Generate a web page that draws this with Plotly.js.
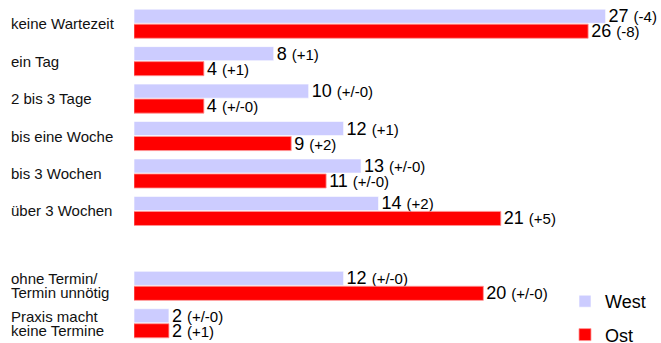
<!DOCTYPE html>
<html>
<head>
<meta charset="utf-8">
<script src="https://cdn.plot.ly/plotly-3.0.1.min.js"></script>
<style>
  html, body { margin: 0; padding: 0; background: #fff; }
  #chart { width: 661px; height: 343px; }
</style>
</head>
<body>
<div id="chart"></div>
<script>
// Wartezeit auf einen Arzttermin, West vs. Ost (Anteile, Veränderung in Klammern)
const categories = [
  'keine Wartezeit',
  'ein Tag',
  '2 bis 3 Tage',
  'bis eine Woche',
  'bis 3 Wochen',
  'über 3 Wochen',
  'ohne Termin/<br>Termin unnötig',
  'Praxis macht<br>keine Termine'
];
const westValues  = [27, 8, 10, 12, 13, 14, 12, 2];
const westChanges = ['(-4)', '(+1)', '(+/-0)', '(+1)', '(+/-0)', '(+2)', '(+/-0)', '(+/-0)'];
const ostValues   = [26, 4, 4, 9, 11, 21, 20, 2];
const ostChanges  = ['(-8)', '(+1)', '(+/-0)', '(+2)', '(+/-0)', '(+5)', '(+/-0)', '(+1)'];

// an empty row separates the waiting-time block from the last two rows
const SPACER = ' ';
const axisOrder = categories.slice(0, 6).concat([SPACER], categories.slice(6));

const FONT = '"Liberation Sans", Arial, Helvetica, sans-serif';
const margin = { l: 134, r: 3, t: 5, b: 1, autoexpand: false };
const plotWidth = 661 - margin.l - margin.r;
const plotHeight = 343 - margin.t - margin.b;

const valueTemplate = '%{x} <span style="font-size:15px">%{customdata}</span>';

function barTrace(name, values, changes, color, edge) {
  return {
    type: 'bar',
    orientation: 'h',
    name: name,
    legendgroup: name,
    y: categories,
    x: values,
    customdata: changes,
    texttemplate: valueTemplate,
    textposition: 'outside',
    constraintext: 'none',
    cliponaxis: false,
    outsidetextfont: { family: FONT, size: 18, color: '#000' },
    marker: { color: color, line: { color: edge, width: 1 } },
    hoverinfo: 'skip'
  };
}

const traces = [
  barTrace('West', westValues, westChanges, '#ccccff', 'rgba(255,255,255,0.6)'),
  barTrace('Ost', ostValues, ostChanges, '#ff0000', 'rgba(255,150,150,0.8)')
];

// left-aligned row labels; two-line labels are set with a tight line pitch
const labelX = (9 - margin.l) / plotWidth;
const annotations = [];
categories.forEach(function (cat) {
  const lines = cat.split('<br>');
  const pitch = 14;
  lines.forEach(function (line, i) {
    annotations.push({
      xref: 'paper', yref: 'y',
      x: labelX, y: cat,
      xanchor: 'left', yanchor: 'middle',
      text: line,
      showarrow: false,
      align: 'left',
      yshift: -(i - (lines.length - 1) / 2) * pitch,
      font: { family: FONT, size: 15, color: '#111' }
    });
  });
});

const layout = {
  width: 661,
  height: 343,
  margin: margin,
  paper_bgcolor: '#fff',
  plot_bgcolor: '#fff',
  font: { family: FONT, color: '#000' },
  barmode: 'group',
  bargap: 0.2,
  bargroupgap: 0.06,
  xaxis: {
    range: [0, 30],
    showgrid: false, zeroline: false, showline: false,
    showticklabels: false, ticks: '', fixedrange: true
  },
  yaxis: {
    type: 'category',
    categoryorder: 'array',
    categoryarray: axisOrder,
    range: [axisOrder.length - 0.5, -0.5],
    showgrid: false, zeroline: false, showline: false,
    showticklabels: false, ticks: '', fixedrange: true
  },
  showlegend: true,
  legend: {
    x: (565 - margin.l) / plotWidth, xanchor: 'left',
    y: (343 - margin.b - 283) / plotHeight, yanchor: 'top',
    traceorder: 'grouped',
    tracegroupgap: 7,
    bgcolor: 'rgba(0,0,0,0)',
    font: { family: FONT, size: 18, color: '#000' }
  },
  annotations: annotations
};

Plotly.newPlot('chart', traces, layout, { staticPlot: true, displayModeBar: false });
</script>
</body>
</html>
